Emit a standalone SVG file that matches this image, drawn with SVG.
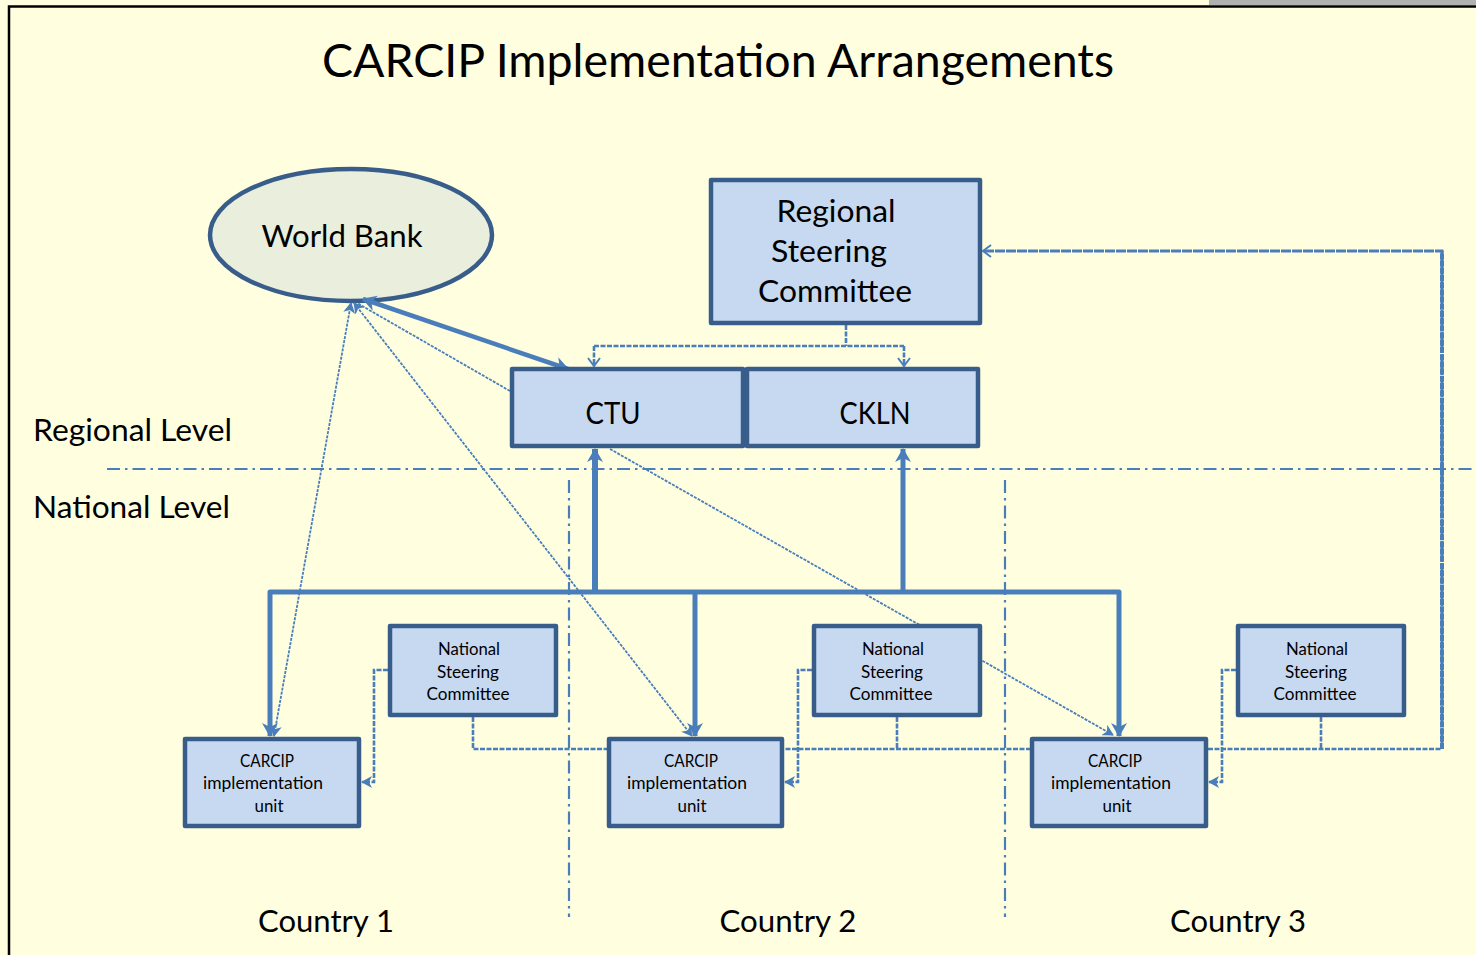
<svg xmlns="http://www.w3.org/2000/svg" width="1476" height="955" viewBox="0 0 1476 955">
<style>
text{font-family:Lato,"Open Sans","Liberation Sans",sans-serif;fill:#000}
.t{text-anchor:middle}
.box{fill:#C6D9F1;stroke:#385D8A;stroke-width:4.5;stroke-linejoin:round}
.thick{fill:none;stroke:#4A7EBB;stroke-width:5}
.dot{fill:none;stroke:#4A7EBB;stroke-width:1.8;stroke-dasharray:3 1.2}
.dash{fill:none;stroke:#4A7EBB;stroke-width:2.6;stroke-dasharray:5 1.5}
.div{fill:none;stroke:#4A7EBB;stroke-width:2.2;stroke-dasharray:13 5 2.5 5}
.big{font-size:31px}
.sm{font-size:17px}
</style>
<defs>
<marker id="ahb" viewBox="0 0 14 16" refX="13" refY="8" markerWidth="14" markerHeight="16" markerUnits="userSpaceOnUse" orient="auto-start-reverse">
<path d="M0,0 L14,8 L0,16 L4,8 z" fill="#4A7EBB"/>
</marker>
<marker id="ahs" viewBox="0 0 11 12" refX="10" refY="6" markerWidth="11" markerHeight="12" markerUnits="userSpaceOnUse" orient="auto-start-reverse">
<path d="M0,0 L11,6 L0,12 L3,6 z" fill="#4A7EBB"/>
</marker>
<marker id="aho" viewBox="0 0 10 14" refX="9" refY="7" markerWidth="10" markerHeight="14" markerUnits="userSpaceOnUse" orient="auto">
<path d="M1,1 L9,7 L1,13" fill="none" stroke="#4A7EBB" stroke-width="2"/>
</marker>
</defs>
<rect x="0" y="0" width="1476" height="955" fill="#FFFFE0"/>
<rect x="1209" y="0" width="267" height="5" fill="#B0B0B0"/>
<path d="M9,955 V6.5 H1476" fill="none" stroke="#000" stroke-width="2.5"/>
<text class="t" x="718" y="77" font-size="46" textLength="792" lengthAdjust="spacingAndGlyphs">CARCIP Implementation Arrangements</text>

<g id="dividers">
<line class="div" x1="107" y1="469" x2="1476" y2="469"/>
<line class="div" x1="569" y1="480" x2="569" y2="917"/>
<line class="div" x1="1005" y1="480" x2="1005" y2="917"/>
</g>

<g id="world-bank">
<ellipse cx="351" cy="235" rx="141" ry="66" fill="#E9EEDD" stroke="#385D8A" stroke-width="4.5"/>
<text class="t big" x="342" y="247" textLength="161" lengthAdjust="spacingAndGlyphs">World Bank</text>
</g>

<g id="connectors">
<line class="dot" x1="510" y1="391" x2="357" y2="303"/>
<line class="dot" x1="351" y1="303" x2="274" y2="736" marker-start="url(#ahs)" marker-end="url(#ahs)"/>
<line class="dot" x1="354" y1="303" x2="692" y2="736" marker-start="url(#ahs)" marker-end="url(#ahs)"/>
<line class="dot" x1="610" y1="449" x2="1113" y2="735" marker-end="url(#ahs)"/>
<line class="thick" x1="363" y1="299" x2="568" y2="369" style="stroke-width:4.5" marker-start="url(#ahb)" marker-end="url(#ahb)"/>
<path class="dash" d="M846,325 V346 M594,346 H904"/>
<path class="dash" d="M594,346 V366" marker-end="url(#aho)"/>
<path class="dash" d="M904,346 V366" marker-end="url(#aho)"/>
<path class="thick" d="M270,736 V592 H1119 V736" stroke-linejoin="round" marker-start="url(#ahb)" marker-end="url(#ahb)"/>
<line class="thick" x1="695" y1="592" x2="695" y2="736" marker-end="url(#ahb)"/>
<line class="thick" x1="595" y1="592" x2="595" y2="449" style="stroke-width:6" marker-end="url(#ahb)"/>
<line class="thick" x1="903" y1="592" x2="903" y2="449" marker-end="url(#ahb)"/>
<path class="dash" d="M388,670 H374 V782 H362" marker-end="url(#ahs)"/>
<path class="dash" d="M812,670 H798 V782 H785" marker-end="url(#ahs)"/>
<path class="dash" d="M1236,670 H1222 V782 H1209" marker-end="url(#ahs)"/>
<path class="dash" d="M473,717 V749 H1442"/>
<path class="dash" d="M1442,749 V251 H983" style="stroke-width:3;stroke-dasharray:10 1" marker-end="url(#aho)"/>
<path class="dash" d="M1442,749 V251" style="stroke-width:4;stroke-dasharray:6 1.2"/>
<path class="dash" d="M897,717 V749 M1321,717 V749"/>
</g>

<g id="rsc">
<rect class="box" x="711" y="180" width="269" height="143"/>
<text class="t big" x="836" y="222" textLength="119" lengthAdjust="spacingAndGlyphs">Regional</text>
<text class="t big" x="829" y="262" textLength="116" lengthAdjust="spacingAndGlyphs">Steering</text>
<text class="t big" x="835" y="302" textLength="154" lengthAdjust="spacingAndGlyphs">Committee</text>
</g>

<g id="ctu">
<rect class="box" x="512" y="369" width="231" height="77"/>
<text class="t big" x="613" y="424" textLength="55" lengthAdjust="spacingAndGlyphs">CTU</text>
</g>

<g id="ckln">
<rect class="box" x="747" y="369" width="231" height="77"/>
<text class="t big" x="875" y="424" textLength="71" lengthAdjust="spacingAndGlyphs">CKLN</text>
</g>

<g id="nsc1">
<rect class="box" x="390" y="626" width="166" height="89"/>
<text class="t sm" x="469" y="655" textLength="62" lengthAdjust="spacingAndGlyphs">National</text>
<text class="t sm" x="468" y="678" textLength="62" lengthAdjust="spacingAndGlyphs">Steering</text>
<text class="t sm" x="468" y="700" textLength="83" lengthAdjust="spacingAndGlyphs">Committee</text>
</g>

<g id="nsc2">
<rect class="box" x="814" y="626" width="166" height="89"/>
<text class="t sm" x="893" y="655" textLength="62" lengthAdjust="spacingAndGlyphs">National</text>
<text class="t sm" x="892" y="678" textLength="62" lengthAdjust="spacingAndGlyphs">Steering</text>
<text class="t sm" x="891" y="700" textLength="83" lengthAdjust="spacingAndGlyphs">Committee</text>
</g>

<g id="nsc3">
<rect class="box" x="1238" y="626" width="166" height="89"/>
<text class="t sm" x="1317" y="655" textLength="62" lengthAdjust="spacingAndGlyphs">National</text>
<text class="t sm" x="1316" y="678" textLength="62" lengthAdjust="spacingAndGlyphs">Steering</text>
<text class="t sm" x="1315" y="700" textLength="83" lengthAdjust="spacingAndGlyphs">Committee</text>
</g>

<g id="ciu1">
<rect class="box" x="185" y="739" width="174" height="87"/>
<text class="t sm" x="267" y="767" textLength="54" lengthAdjust="spacingAndGlyphs">CARCIP</text>
<text class="t sm" x="263" y="789" textLength="120" lengthAdjust="spacingAndGlyphs">implementation</text>
<text class="t sm" x="269" y="812" textLength="29" lengthAdjust="spacingAndGlyphs">unit</text>
</g>

<g id="ciu2">
<rect class="box" x="609" y="739" width="173" height="87"/>
<text class="t sm" x="691" y="767" textLength="54" lengthAdjust="spacingAndGlyphs">CARCIP</text>
<text class="t sm" x="687" y="789" textLength="120" lengthAdjust="spacingAndGlyphs">implementation</text>
<text class="t sm" x="692" y="812" textLength="29" lengthAdjust="spacingAndGlyphs">unit</text>
</g>

<g id="ciu3">
<rect class="box" x="1032" y="739" width="174" height="87"/>
<text class="t sm" x="1115" y="767" textLength="54" lengthAdjust="spacingAndGlyphs">CARCIP</text>
<text class="t sm" x="1111" y="789" textLength="120" lengthAdjust="spacingAndGlyphs">implementation</text>
<text class="t sm" x="1117" y="812" textLength="29" lengthAdjust="spacingAndGlyphs">unit</text>
</g>

<g id="labels">
<text class="big" x="33" y="441" textLength="199" lengthAdjust="spacingAndGlyphs">Regional Level</text>
<text class="big" x="33" y="518" textLength="197" lengthAdjust="spacingAndGlyphs">National Level</text>
<text class="t big" x="326" y="932" textLength="136" lengthAdjust="spacingAndGlyphs">Country 1</text>
<text class="t big" x="788" y="932" textLength="137" lengthAdjust="spacingAndGlyphs">Country 2</text>
<text class="t big" x="1238" y="932" textLength="136" lengthAdjust="spacingAndGlyphs">Country 3</text>
</g>
</svg>
